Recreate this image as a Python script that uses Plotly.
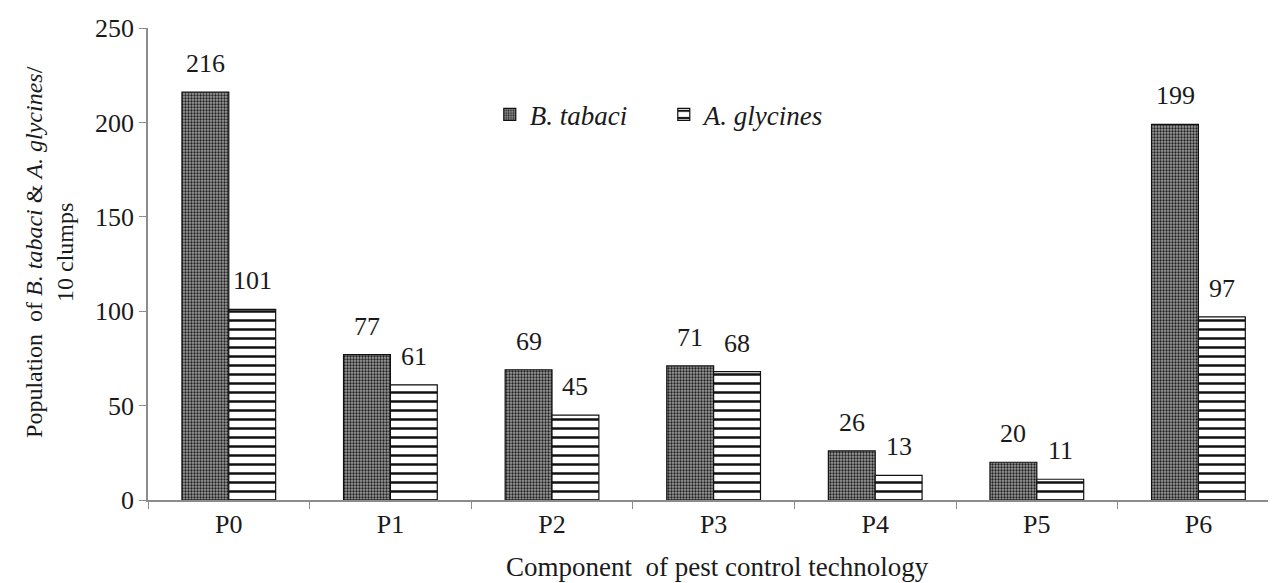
import plotly.graph_objects as go

categories = ["P0", "P1", "P2", "P3", "P4", "P5", "P6"]
b_tabaci = [216, 77, 69, 71, 26, 20, 199]
a_glycines = [101, 61, 45, 68, 13, 11, 97]
y_ticks = [0, 50, 100, 150, 200, 250]

FONT = "Liberation Serif, Times New Roman, serif"
TXT = "#1a1a1a"
BARGAP = 0.42
half = (1 - BARGAP) / 4  # centre offset of each bar inside its group

fig = go.Figure()
fig.add_trace(go.Bar(
    x=categories, y=b_tabaci, name="<i>B. tabaci</i>",
    marker=dict(color="#8c8c8c", line=dict(color="#111111", width=1.2),
                pattern=dict(shape=".", fgcolor="#202020", bgcolor="#9a9a9a",
                             size=3, solidity=0.45, fillmode="replace")),
))
fig.add_trace(go.Bar(
    x=categories, y=a_glycines, name="<i>A. glycines</i>",
    marker=dict(color="white", line=dict(color="#111111", width=1.2),
                pattern=dict(shape="-", fgcolor="#111111", bgcolor="white",
                             size=9, solidity=0.28, fillmode="replace")),
))

# value labels above the bars
for i, (b, a) in enumerate(zip(b_tabaci, a_glycines)):
    for val, off in ((b, -half), (a, half)):
        fig.add_annotation(x=i + off, y=val, xref="x", yref="y", text=str(val),
                           showarrow=False, yanchor="bottom", yshift=12,
                           font=dict(family=FONT, size=26, color=TXT))

fig.update_layout(
    width=1268, height=575,
    margin=dict(l=140, r=0, t=20, b=83),
    paper_bgcolor="white", plot_bgcolor="white",
    barmode="group", bargap=BARGAP, bargroupgap=0,
    font=dict(family=FONT, size=26, color=TXT),
    showlegend=True,
    legend=dict(orientation="h", x=0.303, y=0.816, xanchor="left", yanchor="middle",
                bgcolor="rgba(0,0,0,0)", font=dict(family=FONT, size=27, color=TXT),
                entrywidth=129),
)
fig.update_xaxes(
    range=[-0.5, 6.48], showline=True, linecolor="#8c8c8c", linewidth=1.5,
    ticks="outside", tickson="boundaries", ticklen=7, tickcolor="#8c8c8c",
    tickfont=dict(family=FONT, size=26, color=TXT), showgrid=False, zeroline=False,
)
fig.update_yaxes(
    range=[0, 250], tickvals=y_ticks, showline=True, linecolor="#8c8c8c", linewidth=1.5,
    ticks="outside", ticklen=7, tickcolor="#8c8c8c",
    tickfont=dict(family=FONT, size=26, color=TXT), showgrid=False, zeroline=False,
)
fig.add_annotation(
    text="Population  of <i>B. tabaci</i> & <i>A. glycines</i>/<br>10 clumps",
    xref="paper", yref="paper", x=-0.088, y=0.525, textangle=-90,
    xanchor="center", yanchor="middle", showarrow=False,
    font=dict(family=FONT, size=24, color=TXT),
)
fig.add_annotation(
    text="Component  of pest control technology", xref="paper", yref="paper",
    x=0.505, y=-0.142, xanchor="center", yanchor="middle", showarrow=False,
    font=dict(family=FONT, size=27, color=TXT),
)

fig.write_html("out.html")
